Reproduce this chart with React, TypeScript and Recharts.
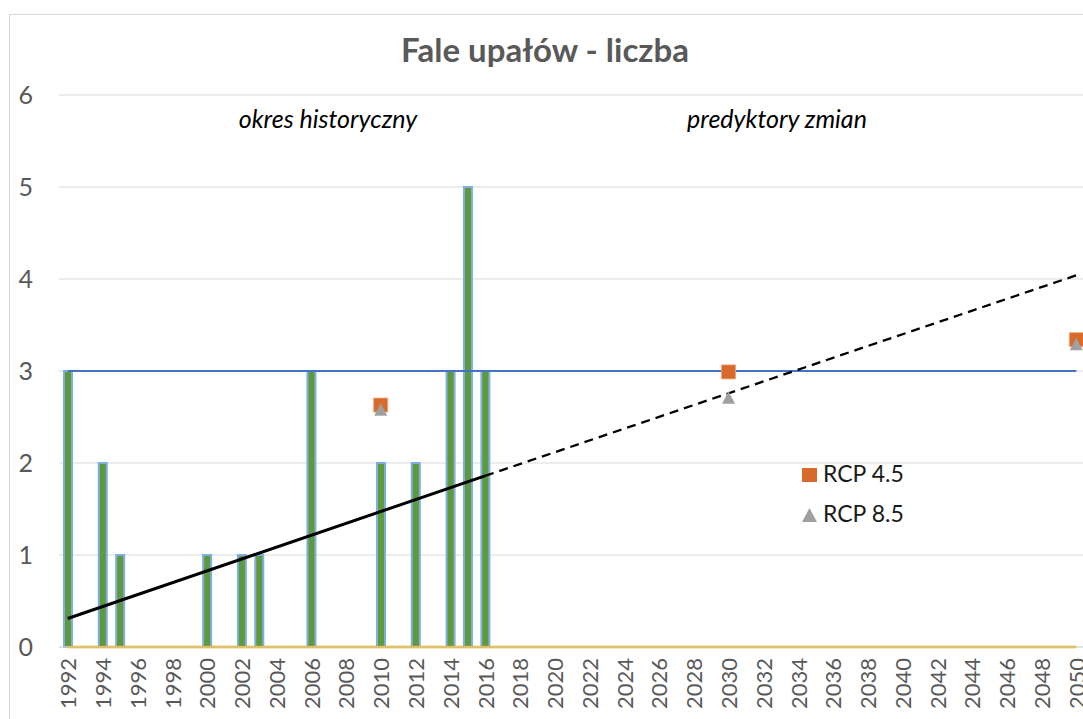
import React from 'react';
import { ComposedChart, Bar, Line, XAxis, YAxis, CartesianGrid, Legend } from 'recharts';

const years: number[] = [
  1992, 1993, 1994, 1995, 1996, 1997, 1998, 1999, 2000, 2001, 2002, 2003, 2004, 2005, 2006, 2007, 2008, 2009, 2010,
  2011, 2012, 2013, 2014, 2015, 2016, 2017, 2018, 2019, 2020, 2021, 2022, 2023, 2024, 2025, 2026, 2027, 2028, 2029,
  2030, 2031, 2032, 2033, 2034, 2035, 2036, 2037, 2038, 2039, 2040, 2041, 2042, 2043, 2044, 2045, 2046, 2047, 2048,
  2049, 2050,
];

// observed number of heat waves, 1992..2016
const heatWaves: number[] = [3, 0, 2, 1, 0, 0, 0, 0, 1, 0, 1, 1, 0, 0, 3, 0, 0, 0, 2, 0, 2, 0, 3, 5, 3];

// reference level line (value 3) and zero line
const thresholdLine: Record<number, number> = { 1992: 3, 2050: 3 };
const zeroLine: Record<number, number> = { 1992: 0, 2050: 0 };

// linear trend: historical (solid) and projected (dashed)
const trendHistorical: Record<number, number> = { 1992: 0.31, 2016: 1.86 };
const trendProjected: Record<number, number> = { 2016: 1.86, 2050: 4.04 };

// scenario projections
const rcp45: Record<number, number> = { 2010: 2.63, 2030: 2.99, 2050: 3.34 };
const rcp85: Record<number, number> = { 2010: 2.58, 2030: 2.71, 2050: 3.29 };

const yTicks: number[] = [0, 1, 2, 3, 4, 5, 6];

const data = years.map((year, i) => ({
  year,
  heat: i < heatWaves.length ? heatWaves[i] : null,
  threshold: thresholdLine[year] ?? null,
  zero: zeroLine[year] ?? null,
  trendHist: trendHistorical[year] ?? null,
  trendProj: trendProjected[year] ?? null,
  rcp45: rcp45[year] ?? null,
  rcp85: rcp85[year] ?? null,
}));

const FONT = 'Lato, "Open Sans", sans-serif';
const ORANGE = '#D86B2B';
const GRAY = '#A0A0A0';

const XTick = (props: any) => {
  const { x, y, payload } = props;
  return (
    <text
      transform={`translate(${x},${y}) rotate(-90)`}
      x={0}
      y={0}
      textAnchor="end"
      dominantBaseline="central"
      fontSize={22}
      fontFamily={FONT}
      fill="#595959"
    >
      {payload.value}
    </text>
  );
};

const SquareDot = (p: any) => {
  const { cx, cy, index, value } = p;
  if (cx == null || cy == null || value == null || isNaN(cy)) return <g key={`sq-${index}`} />;
  return (
    <rect key={`sq-${index}`} x={cx - 7} y={cy - 7} width={14} height={14} fill={ORANGE} stroke="#EFA57A" strokeWidth={0.8} />
  );
};

const TriangleDot = (p: any) => {
  const { cx, cy, index, value } = p;
  if (cx == null || cy == null || value == null || isNaN(cy)) return <g key={`tr-${index}`} />;
  return (
    <polygon
      key={`tr-${index}`}
      points={`${cx},${cy - 6.5} ${cx + 6.5},${cy + 6} ${cx - 6.5},${cy + 6}`}
      fill={GRAY}
    />
  );
};

const LegendContent = () => (
  <svg width={140} height={80} style={{ display: 'block' }}>
    <rect x={12} y={13} width={15} height={14} fill={ORANGE} />
    <text x={33} y={27} fontSize={23} fontFamily={FONT} fill="#1a1a1a">RCP 4.5</text>
    <polygon points="19.5,53 27,67 12,67" fill={GRAY} />
    <text x={33} y={67} fontSize={23} fontFamily={FONT} fill="#1a1a1a">RCP 8.5</text>
  </svg>
);

export default function App() {
  return (
    <div style={{ position: 'fixed', left: 0, top: 0, width: 1083, height: 719, overflow: 'hidden', background: '#fff' }}>
      <div
        style={{
          position: 'absolute',
          left: 9,
          top: 14,
          width: 1200,
          height: 1000,
          border: '1px solid #d9d9d9',
          boxSizing: 'border-box',
        }}
      />
      <div style={{ position: 'absolute', left: 0, top: 0 }}>
        <ComposedChart width={1090} height={719} data={data} margin={{ top: 95, right: 5, bottom: 0, left: 0 }}>
          <CartesianGrid vertical={false} stroke="#d9d9d9" strokeWidth={1} />
          <XAxis
            dataKey="year"
            type="category"
            interval={1}
            height={72}
            tickSize={0}
            tickMargin={11}
            tick={<XTick />}
            axisLine={{ stroke: '#d9d9d9' }}
            tickLine={false}
          />
          <YAxis
            domain={[0, 6]}
            ticks={yTicks}
            width={59}
            tickSize={0}
            tickMargin={26}
            axisLine={false}
            tickLine={false}
            tick={{ fontSize: 25, fill: '#595959', fontFamily: FONT }}
          />
          <Bar dataKey="heat" fill="#5E9A3C" stroke="#7EAEE2" strokeWidth={2} barSize={8} isAnimationActive={false} />
          <Line dataKey="threshold" stroke="#4472C4" strokeWidth={2} dot={false} activeDot={false} connectNulls isAnimationActive={false} />
          <Line dataKey="zero" stroke="#E3A500" strokeWidth={2.5} dot={false} activeDot={false} connectNulls isAnimationActive={false} />
          <Line dataKey="trendHist" stroke="#000" strokeWidth={3} dot={false} activeDot={false} connectNulls isAnimationActive={false} />
          <Line
            dataKey="trendProj"
            stroke="#000"
            strokeWidth={2.3}
            strokeDasharray="9 6"
            dot={false}
            activeDot={false}
            connectNulls
            isAnimationActive={false}
          />
          <Line dataKey="rcp45" name="RCP 4.5" stroke="none" dot={SquareDot} activeDot={false} isAnimationActive={false} />
          <Line dataKey="rcp85" name="RCP 8.5" stroke="none" dot={TriangleDot} activeDot={false} isAnimationActive={false} />
          <Legend
            layout="horizontal"
            verticalAlign="middle"
            align="center"
            wrapperStyle={{ left: 790, top: 455, width: 140, height: 80 }}
            content={LegendContent}
          />
        </ComposedChart>
      </div>
      <svg
        width={1083}
        height={719}
        style={{ position: 'absolute', left: 0, top: 0, pointerEvents: 'none' }}
      >
        <text x={545} y={62} textAnchor="middle" fontFamily={FONT} fontWeight={700} fontSize={33} fill="#595959">
          Fale upałów - liczba
        </text>
        <text x={328} y={128} textAnchor="middle" fontFamily={FONT} fontStyle="italic" fontSize={25} fill="#000">
          okres historyczny
        </text>
        <text x={777} y={128} textAnchor="middle" fontFamily={FONT} fontStyle="italic" fontSize={25} fill="#000">
          predyktory zmian
        </text>
      </svg>
    </div>
  );
}
